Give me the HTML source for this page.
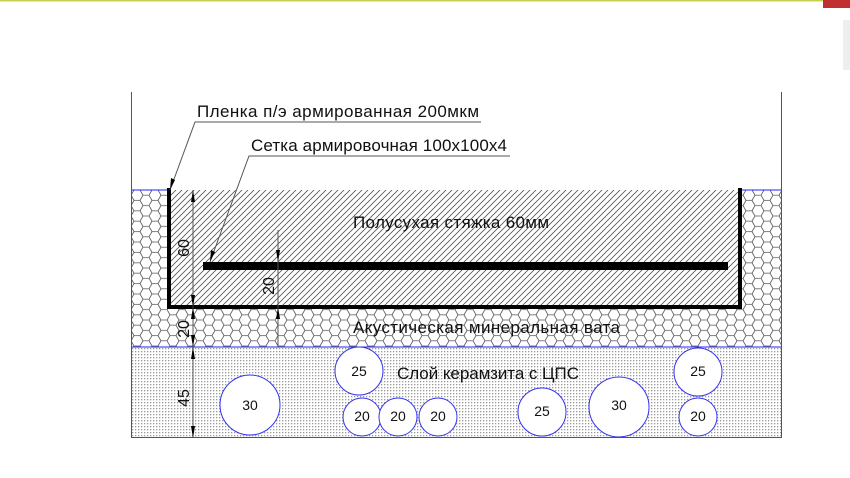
<!DOCTYPE html>
<html><head><meta charset="utf-8"><style>html,body{margin:0;padding:0;background:#fff;width:850px;height:478px;overflow:hidden}</style></head>
<body>
<svg width="850" height="478" viewBox="0 0 850 478" xmlns="http://www.w3.org/2000/svg" font-family="Liberation Sans, DejaVu Sans, sans-serif">
<defs>
<pattern id="hatch" width="6" height="6" patternUnits="userSpaceOnUse">
<path d="M-1,7 L7,-1 M-4,4 L4,-4 M2,10 L10,2" stroke="#555" stroke-width="0.8"/>
</pattern>
<pattern id="hex" width="18" height="10.4" patternUnits="userSpaceOnUse" x="131" y="190">
<path d="M0,5.2 L3,0 L9,0 L12,5.2 L9,10.4 L3,10.4 Z M12,5.2 L18,5.2" fill="none" stroke="#555" stroke-width="0.8"/>
</pattern>
<pattern id="dots" width="3" height="3" patternUnits="userSpaceOnUse">
<rect width="3" height="3" fill="#fff"/><rect width="1.3" height="1.3" fill="#999"/>
</pattern>
</defs>
<line x1="0" y1="0.5" x2="835" y2="0.5" stroke="#c8d050" stroke-width="2"/>
<rect x="823" y="0" width="27" height="8" fill="#c03030"/>
<rect x="843" y="20" width="7" height="50" fill="#eee"/>
<rect x="131" y="190" width="651" height="157" fill="url(#hex)"/>
<rect x="131" y="347" width="651" height="90" fill="url(#dots)"/>
<rect x="170" y="190" width="570" height="117" fill="#fff"/>
<rect x="170" y="190" width="570" height="117" fill="url(#hatch)"/>
<line x1="131" y1="190" x2="170" y2="190" stroke="#2020ff"/>
<line x1="740" y1="190" x2="782" y2="190" stroke="#2020ff"/>
<line x1="131" y1="347" x2="782" y2="347" stroke="#2020ff"/>
<line x1="131.5" y1="92" x2="131.5" y2="438" stroke="#555"/>
<line x1="781.5" y1="92" x2="781.5" y2="438" stroke="#555"/>
<line x1="131" y1="437.5" x2="782" y2="437.5" stroke="#555"/>
<g fill="#fff" stroke="#3333ee" stroke-width="1">
<circle cx="250" cy="405" r="30"/><circle cx="359" cy="371" r="24"/>
<circle cx="362" cy="417" r="19"/><circle cx="398" cy="417" r="19"/><circle cx="438" cy="417" r="19"/>
<circle cx="542" cy="412" r="24"/><circle cx="619" cy="407" r="30"/>
<circle cx="698" cy="372" r="24"/><circle cx="698" cy="417" r="19"/>
</g>
<g font-size="14" text-anchor="middle" fill="#111">
<text x="250" y="410">30</text><text x="359" y="376">25</text>
<text x="362" y="421">20</text><text x="398" y="421">20</text><text x="438" y="421">20</text>
<text x="542" y="416">25</text><text x="619" y="410">30</text>
<text x="698" y="376">25</text><text x="698" y="421">20</text>
</g>
<path d="M169,188 L169,307 L740,307 L740,188" fill="none" stroke="#000" stroke-width="4"/>
<rect x="203" y="262" width="525" height="8" fill="#000"/>
<g stroke="#555" stroke-width="1">
<line x1="193" y1="190" x2="193" y2="438"/>
<line x1="278" y1="230" x2="278" y2="347"/>
</g>
<g fill="#000">
<path d="M193,190 l-2,12 l4,0z M193,307 l-2,-12 l4,0z M193,307 l-2,12 l4,0z M193,347 l-2,-12 l4,0z M193,347 l-2,12 l4,0z M193,438 l-2,-12 l4,0z"/>
<path d="M278,262 l-2,-12 l4,0z M278,307 l-2,12 l4,0z"/>
</g>
<g font-size="16" fill="#111">
<text transform="translate(189,248) rotate(-90)" text-anchor="middle">60</text>
<text transform="translate(189,329) rotate(-90)" text-anchor="middle">20</text>
<text transform="translate(189,398) rotate(-90)" text-anchor="middle">45</text>
<text transform="translate(274,286) rotate(-90)" text-anchor="middle">20</text>
</g>
<path d="M170,190 L195,122 L481,122" fill="none" stroke="#555"/>
<path d="M170,190 l1,-12 l4,2z" fill="#000"/>
<path d="M210,262 L249,156 L510,156" fill="none" stroke="#555"/>
<path d="M210,262 l1,-12 l4,2z" fill="#000"/>
<g font-size="17" fill="#111">
<text x="197" y="117" textLength="282">Пленка п/э армированная 200мкм</text>
<text x="251" y="151" textLength="256">Сетка армировочная 100х100х4</text>
<text x="353" y="228" textLength="196">Полусухая стяжка 60мм</text>
<text x="353" y="333" textLength="267">Акустическая минеральная вата</text>
<text x="397" y="379" textLength="182">Слой керамзита с ЦПС</text>
</g>
</svg>
</body></html>
